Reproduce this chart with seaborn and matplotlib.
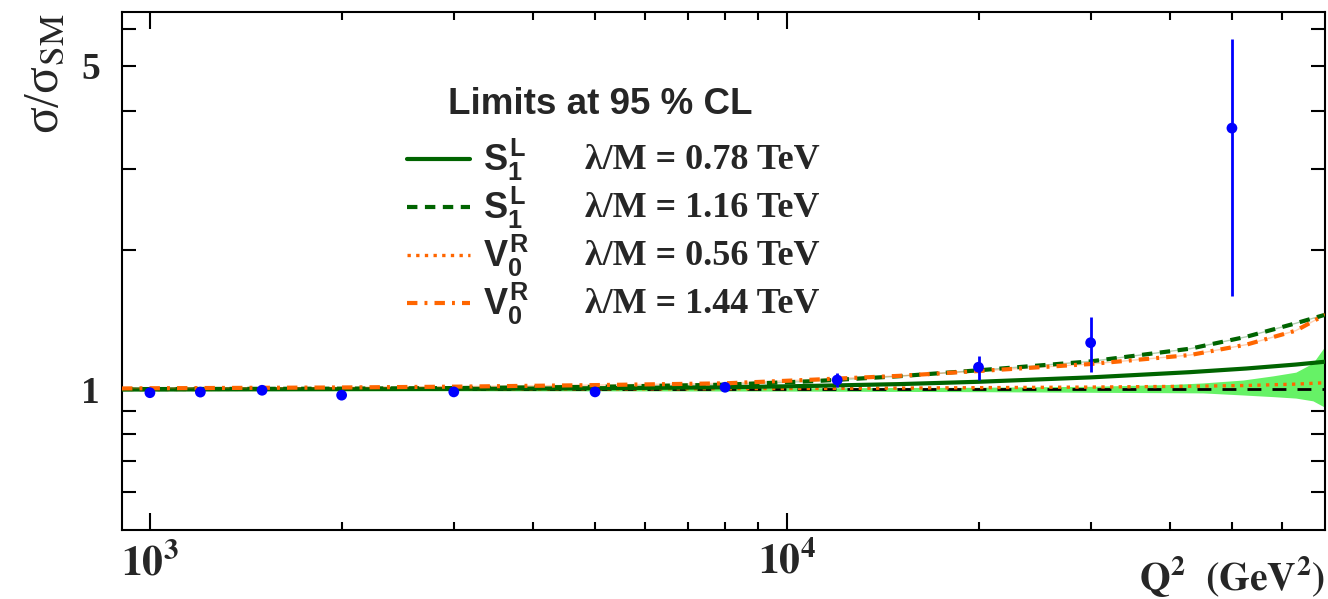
import numpy as np
import pandas as pd
import matplotlib
matplotlib.use("Agg")
import matplotlib.pyplot as plt
import seaborn as sns
from matplotlib.lines import Line2D
from matplotlib.ticker import FixedLocator, NullFormatter

# ---------------- data ----------------
q2_pts = [1000, 1200, 1500, 2000, 3000, 5000, 8000, 12000, 20000, 30000, 50000]
ratio = [0.984, 0.987, 0.996, 0.972, 0.988, 0.988, 1.011, 1.048, 1.117, 1.262, 3.67]
ratio_lo = [0.979, 0.982, 0.991, 0.967, 0.983, 0.982, 1.004, 1.013, 1.048, 1.092, 1.59]
ratio_hi = [0.989, 0.992, 1.001, 0.977, 0.993, 0.994, 1.018, 1.085, 1.18, 1.434, 5.73]

q2_curve = [904, 1000, 2000, 3000, 5000, 8000, 11000, 15000, 20000, 30000, 43000, 52700, 63000, 70000]
s1l_078 = [1.0, 1.0, 1.002, 1.003, 1.006, 1.011, 1.018, 1.027, 1.039, 1.062, 1.09, 1.11, 1.132, 1.148]
s1l_116 = [1.002, 1.002, 1.004, 1.007, 1.013, 1.024, 1.042, 1.068, 1.10, 1.15, 1.225, 1.30, 1.39, 1.45]
v0r_056 = [1.0, 1.0, 1.001, 1.002, 1.003, 1.004, 1.005, 1.007, 1.009, 1.012, 1.016, 1.02, 1.027, 1.034]
v0r_144 = [1.005, 1.006, 1.010, 1.014, 1.022, 1.031, 1.050, 1.07, 1.096, 1.135, 1.187, 1.25, 1.34, 1.45]

q2_band = [904, 5000, 10000, 20000, 30000, 40000, 45000, 52000, 58000, 63000, 67000, 70000]
band_hi = [1.006, 1.007, 1.008, 1.011, 1.016, 1.025, 1.033, 1.048, 1.07, 1.09, 1.14, 1.24]
band_lo = [0.994, 0.993, 0.992, 0.989, 0.986, 0.984, 0.983, 0.973, 0.965, 0.958, 0.945, 0.915]

x_major = [1e3, 1e4]
x_major_labels = [r"$\mathbf{10^{3}}$", r"$\mathbf{10^{4}}$"]
x_minor = [2e3, 3e3, 4e3, 5e3, 6e3, 7e3, 8e3, 9e3, 2e4, 3e4, 4e4, 5e4, 6e4]
y_major = [1, 5]
y_major_labels = ["1", "5"]
y_minor = [0.6, 0.7, 0.8, 0.9, 2, 3, 4, 6]

legend_labels = [r"$S_{1}^{L}$", r"$S_{1}^{L}$", r"$V_{0}^{R}$", r"$V_{0}^{R}$"]
legend_values = ["λ/M = 0.78 TeV", "λ/M = 1.16 TeV", "λ/M = 0.56 TeV", "λ/M = 1.44 TeV"]
legend_title = "Limits at 95 % CL"

# ---------------- style ----------------
sns.set_theme(style="ticks")
plt.rcParams['font.family'] = ['Liberation Serif', 'DejaVu Serif']
plt.rcParams['mathtext.fontset'] = 'custom'
plt.rcParams['mathtext.rm'] = 'Liberation Sans:bold'
plt.rcParams['mathtext.it'] = 'Liberation Sans:bold'
plt.rcParams['mathtext.bf'] = 'Liberation Sans:bold'

GREEN = "#006400"
ORANGE = "#ff6600"
BAND = "#66f266"

fig = plt.figure(figsize=(13.28, 5.99), dpi=100)
ax = fig.add_axes([122 / 1328, 1 - 530 / 599, (1325 - 122) / 1328, (530 - 12) / 599])
ax.set_xscale('log')
ax.set_yscale('log')

# band
ax.fill_between(q2_band, band_lo, band_hi, color=BAND, lw=0, zorder=1)
# reference line at 1
ax.axhline(1.0, color='black', lw=2.0, dashes=(5, 4), zorder=2)

def curve(y, color, lw, dashes, z, faint=False):
    sns.lineplot(x=q2_curve, y=y, ax=ax, color=color, lw=lw, estimator=None,
                 sort=False, zorder=z)
    ln = ax.lines[-1]
    if dashes is not None:
        ln.set_dashes(dashes)
    if faint:
        sns.lineplot(x=q2_curve, y=y, ax=ax, color=color, lw=1.0, alpha=0.3,
                     estimator=None, sort=False, zorder=z - 0.1)

curve(v0r_056, ORANGE, 2.4, (1.0, 1.6), 3)
curve(s1l_078, GREEN, 3.0, None, 3.1)
curve(s1l_116, GREEN, 3.0, (2.5, 1.8), 3.2, faint=True)
curve(v0r_144, ORANGE, 3.0, (2.5, 1.7, 0.7, 1.7), 3.3, faint=True)

# data points
r = np.array(ratio)
ax.errorbar(q2_pts, ratio, yerr=[r - np.array(ratio_lo), np.array(ratio_hi) - r],
            fmt='none', ecolor='#0000ff', elinewidth=2.0, capsize=0, zorder=5)
sns.scatterplot(x=q2_pts, y=ratio, ax=ax, color='#0000ff', s=60, edgecolor='none',
                zorder=6, legend=False)

ax.set_xlim(904, 70000)
ax.set_ylim(0.497, 6.54)

# ticks
ax.xaxis.set_major_locator(FixedLocator(x_major))
ax.xaxis.set_minor_locator(FixedLocator(x_minor))
ax.xaxis.set_minor_formatter(NullFormatter())
ax.set_xticklabels(x_major_labels)
ax.yaxis.set_major_locator(FixedLocator(y_major))
ax.yaxis.set_minor_locator(FixedLocator(y_minor))
ax.yaxis.set_minor_formatter(NullFormatter())
ax.set_yticklabels(y_major_labels)

ax.tick_params(axis='both', which='both', direction='in', top=True, right=True,
               width=1.5, color='black')
ax.tick_params(axis='x', which='major', length=12, pad=9, labelsize=30)
ax.tick_params(axis='x', which='minor', length=6)
ax.tick_params(axis='y', which='both', length=10)
ax.tick_params(axis='y', which='major', pad=16, labelsize=27)
for t in ax.get_xticklabels():
    t.set_math_fontfamily('stix')
for t in ax.get_yticklabels():
    t.set_fontweight('bold')
for s in ax.spines.values():
    s.set_linewidth(1.5)
    s.set_color('black')
ax.grid(False)

# axis labels
xl = ax.set_xlabel(r"$\mathbf{Q^{2}\ \ (GeV^{2})}$", fontsize=28.5, ha='right', va='top')
xl.set_math_fontfamily('stix')
ax.xaxis.set_label_coords(1.0, -0.046)
yl = ax.set_ylabel(r"σ/σ$_{\mathrm{SM}}$", fontsize=36, family='Liberation Serif',
                   ha='right', va='center')
yl.set_math_fontfamily('stix')
ax.yaxis.set_label_coords(-0.064, 0.996)

# legend
handles = [
    Line2D([], [], color=GREEN, lw=3.0),
    Line2D([], [], color=GREEN, lw=3.0, dashes=(2.5, 1.8)),
    Line2D([], [], color=ORANGE, lw=2.4, dashes=(1.0, 1.6)),
    Line2D([], [], color=ORANGE, lw=3.0, dashes=(2.5, 1.7, 0.7, 1.7)),
]
leg = ax.legend(handles, legend_labels, loc='upper left',
                bbox_to_anchor=((407 - 122) / 1203, (530 - 137) / 518),
                frameon=False, borderaxespad=0, borderpad=0,
                handlelength=1.75, handletextpad=0.35, labelspacing=0.05,
                prop={'family': 'Liberation Sans', 'weight': 'bold', 'size': 26})

ax.text((600 - 122) / 1203, (530 - 104) / 518, legend_title, transform=ax.transAxes,
        ha='center', va='center', fontsize=26.5, fontweight='bold',
        family='Liberation Sans')

fig.canvas.draw()
renderer = fig.canvas.get_renderer()
inv = ax.transAxes.inverted()
for txt, val in zip(leg.get_texts(), legend_values):
    bb = txt.get_window_extent(renderer)
    cy = (bb.y0 + bb.y1) / 2
    _, yax = inv.transform((bb.x0, cy))
    ax.text((585 - 122) / 1203, yax, val, transform=ax.transAxes, ha='left',
            va='center', fontsize=26, fontweight='bold', family='Liberation Serif')

fig.savefig("out.png", dpi=100)
